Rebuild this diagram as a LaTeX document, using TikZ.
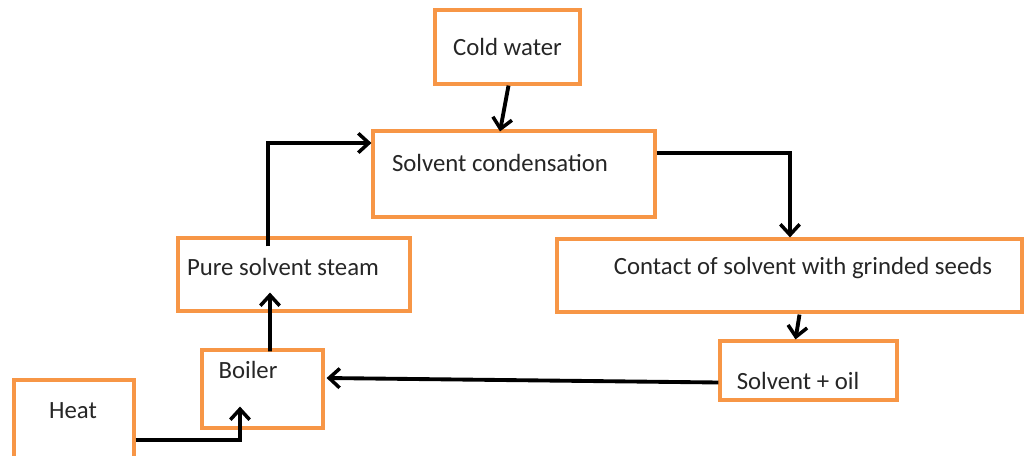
\documentclass[tikz,border=0pt]{standalone}
\usepackage{fontspec}
\setmainfont{Carlito}
\usetikzlibrary{positioning, calc, arrows.meta}
\definecolor{boxorange}{RGB}{247,150,70}

\begin{document}
\begin{tikzpicture}[
    x=0.02cm, y=-0.02cm,
    box/.style={rectangle, draw=boxorange, line width=1.8pt, fill=white, inner sep=0pt},
    txt/.style={font=\fontsize{14.1}{17}\selectfont, text=black!85, inner sep=0pt},
    arrow/.style={-{Straight Barb[length=6pt, width=11pt, line width=2pt]}, line width=2.2pt, black}
]
    \useasboundingbox (0,0) rectangle (1024,456);

    \node[box, minimum width=145*0.02cm, minimum height=74*0.02cm,
          label={[txt]center:Cold water}] (cold) at (507.5,47) {};
    \node[box, minimum width=282*0.02cm, minimum height=86*0.02cm,
          label={[txt, xshift=-14*0.02cm, yshift=11*0.02cm]center:Solvent condensation}] (cond) at (514,174) {};
    \node[box, minimum width=232*0.02cm, minimum height=73*0.02cm,
          label={[txt, xshift=-11*0.02cm, yshift=7.5*0.02cm]center:Pure solvent steam}] (steam) at (294,274.5) {};
    \node[box, minimum width=465*0.02cm, minimum height=73*0.02cm,
          label={[txt, xshift=13.5*0.02cm, yshift=7.5*0.02cm]center:Contact of solvent with grinded seeds}] (contact) at (789.5,275.5) {};
    \node[box, minimum width=177*0.02cm, minimum height=59*0.02cm,
          label={[txt, xshift=-10.5*0.02cm, yshift=-10.5*0.02cm]center:Solvent + oil}] (oil) at (808.5,370.5) {};
    \node[box, minimum width=121*0.02cm, minimum height=78*0.02cm,
          label={[txt, xshift=-14.5*0.02cm, yshift=19*0.02cm]center:Boiler}] (boiler) at (262.5,389) {};
    \node[box, minimum width=120*0.02cm, minimum height=82*0.02cm,
          label={[txt, xshift=-1*0.02cm, yshift=10*0.02cm]center:Heat}] (heat) at (74,421) {};

    \draw[arrow] ($(cold.south)+(1,0)$) -- ($(cond.north)+(-14,2)$);
    \draw[arrow] ($(steam.north)+(-26,10)$) |- ($(cond.west)+(0,-31)$);
    \draw[arrow] ($(cond.east)+(0,-21)$) -| ($(contact.north)+(0.5,0)$);
    \draw[arrow] ($(contact.south)+(10,1)$) -- ($(oil.north)+(-13,0)$);
    \draw[arrow] ($(oil.west)+(0,12)$) -- ($(boiler.east)+(2,-11)$);
    \draw[arrow] ($(boiler.north)+(7.5,3)$) -- ($(steam.south)+(-24,-20)$);
    \draw[arrow] ($(heat.east)+(0,19)$) -| ($(boiler.south)+(-22.5,-23)$);

\end{tikzpicture}
\end{document}
